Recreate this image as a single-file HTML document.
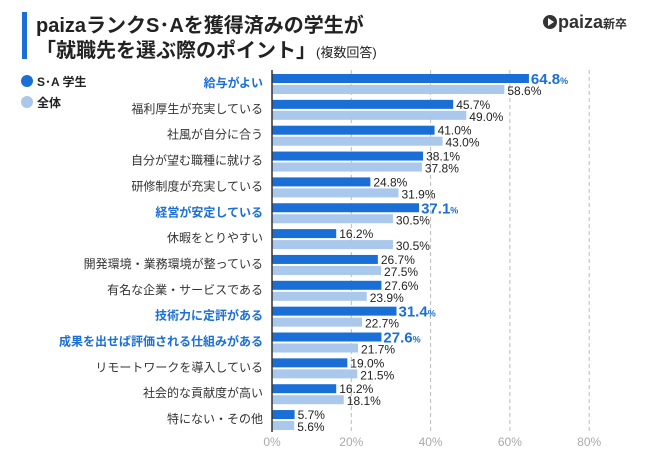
<!DOCTYPE html>
<html><head><meta charset="utf-8">
<style>
body{margin:0;width:650px;height:450px;background:#fff;overflow:hidden;font-family:"Liberation Sans","Noto Sans CJK JP",sans-serif;}
</style></head>
<body>
<svg width="650" height="450" xmlns="http://www.w3.org/2000/svg" font-family="'Liberation Sans','Noto Sans CJK JP',sans-serif">
<rect x="22" y="12" width="5" height="47" fill="#1a6fd6"/>
<text x="36" y="32" font-size="20" font-weight="bold" fill="#222">paizaランクS･Aを獲得済みの学生が</text>
<text x="36" y="57" font-size="20" font-weight="bold" fill="#222">「就職先を選ぶ際のポイント」<tspan font-size="13" font-weight="normal">(複数回答)</tspan></text>
<g>
<circle cx="550" cy="22" r="7" fill="#333"/>
<path d="M548 18 L554 22 L548 26 Z" fill="#fff"/>
<text x="558" y="28" font-size="18" font-weight="bold" fill="#333">paiza<tspan font-size="12">新卒</tspan></text>
</g>
<circle cx="27" cy="81" r="6" fill="#1a6fd6"/>
<text x="37" y="86" font-size="12" font-weight="bold" fill="#222">S･A 学生</text>
<circle cx="27" cy="102" r="6" fill="#a9c8ec"/>
<text x="37" y="107" font-size="12" font-weight="bold" fill="#222">全体</text>
<g id="plot"></g>
</svg>
<script>
const categories=["給与がよい","福利厚生が充実している","社風が自分に合う","自分が望む職種に就ける","研修制度が充実している","経営が安定している","休暇をとりやすい","開発環境・業務環境が整っている","有名な企業・サービスである","技術力に定評がある","成果を出せば評価される仕組みがある","リモートワークを導入している","社会的な貢献度が高い","特にない・その他"];
const saValues=[64.8,45.7,41.0,38.1,24.8,37.1,16.2,26.7,27.6,31.4,27.6,19.0,16.2,5.7];
const allValues=[58.6,49.0,43.0,37.8,31.9,30.5,30.5,27.5,23.9,22.7,21.7,21.5,18.1,5.6];
const highlighted=[true,false,false,false,false,true,false,false,false,true,true,false,false,false];
const ticks=[0,20,40,60,80];
const NS="http://www.w3.org/2000/svg";
const g=document.getElementById('plot');
const x0=272,xs=3.965;
function X(v){return x0+v*xs;}
function Y(i){return 74+i*25.85;}
function mk(t,a){const e=document.createElementNS(NS,t);for(const k in a)e.setAttribute(k,a[k]);g.appendChild(e);return e;}
ticks.forEach(t=>{
 if(t>0){const l=mk('line',{x1:X(t),x2:X(t),y1:70,y2:431,stroke:'#bbb','stroke-dasharray':'4,3'});
 
 }
 const tx=mk('text',{x:X(t),y:446,'font-size':12,fill:'#aaa','text-anchor':'middle'});tx.textContent=t+'%';
 
 
});
categories.forEach((c,i)=>{
 const y=Y(i),h=highlighted[i];
 const lb=mk('text',{x:263,y:y+13,'font-size':12,fill:h?'#1a6fd6':'#333','font-weight':h?'bold':'normal','text-anchor':'end'});lb.textContent=c;
 
 
 const b1=mk('rect',{x:x0,y:y,width:X(saValues[i])-x0,height:9,fill:'#1a6fd6'});
 
 
 const b2=mk('rect',{x:x0,y:y+11,width:X(allValues[i])-x0,height:9,fill:'#a9c8ec'});
 
 
 let v1;
 if(h){v1=mk('text',{x:X(saValues[i])+2,y:y+10,'font-size':15,'font-weight':'bold',fill:'#1a6fd6'});
  v1.innerHTML=saValues[i].toFixed(1)+'<tspan font-size="9">%</tspan>';}
 else{v1=mk('text',{x:X(saValues[i])+3,y:y+9,'font-size':12,fill:'#222'});v1.textContent=saValues[i].toFixed(1)+'%';}
 
 
 const v2=mk('text',{x:X(allValues[i])+3,y:y+21,'font-size':12,fill:'#222'});v2.textContent=allValues[i].toFixed(1)+'%';
 
 
});
const ax=mk('line',{x1:x0,x2:x0,y1:70,y2:432,stroke:'#333','stroke-width':1.5});


</script>
</body></html>
